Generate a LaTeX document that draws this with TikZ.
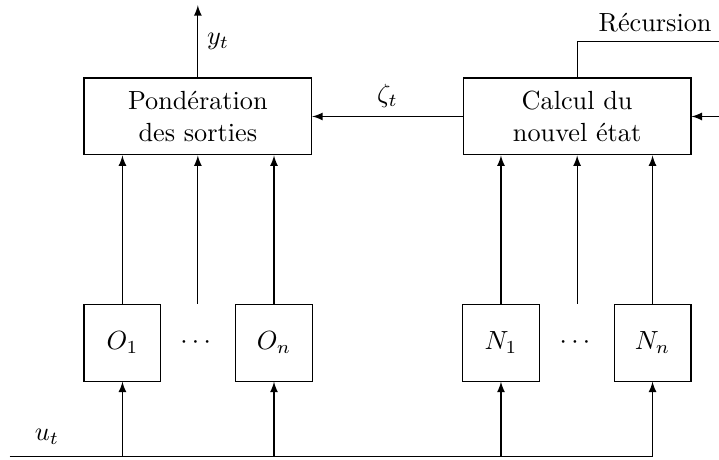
\documentclass[tikz,border=0pt]{standalone}
\usepackage{amsmath, amssymb}
\usetikzlibrary{positioning, calc}

\tikzset{
  bloc/.style={draw, minimum width=3.05cm, minimum height=1.03cm, align=center, inner sep=2pt},
  cellule/.style={draw, minimum width=1.03cm, minimum height=1.03cm, inner sep=0pt},
  fleche/.style={->, >=latex}
}

\begin{document}
\begin{tikzpicture}
\useasboundingbox (0,0) rectangle (9.63,6.15);

% --- BLOCS DU HAUT ---
\node[bloc] (pond) at (2.65,4.59) {Pondération\\des sorties};
\node[bloc] (calcul) at (7.73,4.59) {Calcul du\\nouvel état};

% --- CELLULES DU BAS ---
\node[cellule] (o1) at (1.64,1.56) {$O_1$};
\node[cellule] (on) at (3.67,1.56) {$O_n$};
\node (odots) at (2.65,1.56) {$\cdots$};
\node[cellule] (n1) at (6.71,1.56) {$N_1$};
\node[cellule] (nn) at (8.74,1.56) {$N_n$};
\node (ndots) at (7.73,1.56) {$\cdots$};

% points de passage
\coordinate (bus) at (0.13,0.04);
\coordinate (sortie) at (2.65,6.08);
\coordinate (boucle) at (7.73,5.60);
\coordinate (boucleFin) at (9.63,5.60);
\coordinate (entree) at (9.63,4.59);

% --- LIAISONS ---
\draw[fleche] (pond.north) -- (sortie) node[midway, right] {$y_t$};
\draw[fleche] (calcul) -- (pond) node[midway, above] {$\zeta_t$};
\draw (calcul.north) -- (boucle) -- (boucleFin) node[pos=0.55, above] {Récursion};
\draw[fleche] (entree) -- (calcul.east);

\draw[fleche] (o1) -- (o1 |- pond.south);
\draw[fleche] (on) -- (on |- pond.south);
\draw[fleche] (odots |- o1.north) -- (pond.south);
\draw[fleche] (n1) -- (n1 |- calcul.south);
\draw[fleche] (nn) -- (nn |- calcul.south);
\draw[fleche] (ndots |- n1.north) -- (calcul.south);

% entree u_t
\draw (bus) -- (nn |- bus);
\node (ut) at (0.63,0.30) {$u_t$};
\foreach \c in {o1, on, n1, nn}
  \draw[fleche] (\c |- bus) -- (\c.south);
\end{tikzpicture}
\end{document}
